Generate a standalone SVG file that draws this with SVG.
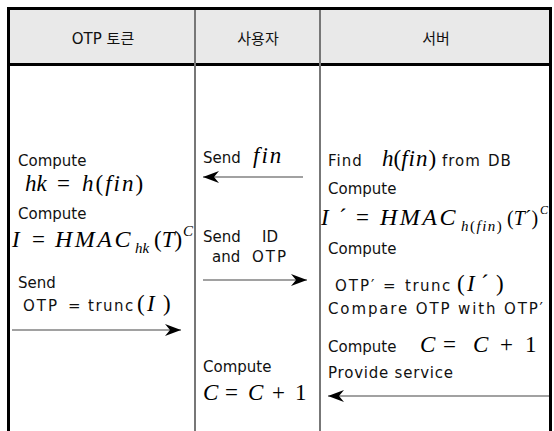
<svg xmlns="http://www.w3.org/2000/svg" width="554" height="431" viewBox="0 0 554 431">
<defs>
<marker id="ah" viewBox="0 0 16 12" refX="16" refY="6" markerWidth="16" markerHeight="12" orient="auto-start-reverse" markerUnits="userSpaceOnUse">
<path d="M0,0 L16,6 L0,12 L5,6 Z" fill="#000"/>
</marker>
<style>
.s{font-family:"DejaVu Sans","Noto Sans CJK KR",sans-serif;font-size:15px;fill:#111}
.h{font-family:"DejaVu Sans","Noto Sans CJK KR",sans-serif;font-size:15px;fill:#111;text-anchor:middle}
.m{font-family:"Liberation Serif","DejaVu Serif",serif;font-size:23px;fill:#000}
.i{font-style:italic}
.sb{font-size:15px}
.hm{font-size:24px;letter-spacing:2.5px}
.ln{stroke:#444;stroke-width:1.2;fill:none}
</style>
</defs>
<rect x="10" y="10" width="539" height="54" fill="#e9e9e9"/>
<g id="frame" fill="none">
<path d="M8.5,431 V8.5 H550.5 V431" stroke="#000" stroke-width="3"/>
<line x1="10" y1="64.5" x2="549" y2="64.5" stroke="#000" stroke-width="3"/>
<line x1="195" y1="10" x2="195" y2="431" stroke="#777" stroke-width="2"/>
<line x1="320" y1="10" x2="320" y2="431" stroke="#777" stroke-width="2"/>
</g>
<g id="header">
<text class="h" x="103" y="44">OTP 토큰</text>
<text class="h" x="258" y="44">사용자</text>
<text class="h" x="436" y="44">서버</text>
</g>
<g id="token">
<text class="s" x="18" y="166">Compute</text>
<text class="m"><tspan class="i" x="25" y="191">hk</tspan><tspan x="57">=</tspan><tspan class="i" x="82" letter-spacing="2">h</tspan><tspan letter-spacing="2">(</tspan><tspan class="i" letter-spacing="2">fin</tspan><tspan>)</tspan></text>
<text class="s" x="18" y="219">Compute</text>
<text class="m"><tspan class="i" x="12" y="247">I</tspan><tspan x="32">=</tspan><tspan class="i hm" x="55">HMAC</tspan><tspan class="i sb" x="135" dy="6">hk</tspan><tspan x="154" dy="-6">(</tspan><tspan class="i">T</tspan><tspan>)</tspan><tspan class="i sb" x="183" dy="-11">C</tspan></text>
<text class="s" x="18" y="288">Send</text>
<text class="s" x="23" y="311"><tspan letter-spacing="2">OTP</tspan><tspan x="68">=</tspan><tspan x="88" letter-spacing="1.5">trunc</tspan><tspan class="m" x="137">(</tspan><tspan class="m i" x="147">I</tspan><tspan class="m" x="163">)</tspan></text>
</g>
<g id="user">
<text class="s" x="203" y="163">Send<tspan class="m i" x="253" letter-spacing="2">fin</tspan></text>
<text class="s" x="203" y="242">Send<tspan x="262">ID</tspan></text>
<text class="s" x="212" y="262">and<tspan x="252" letter-spacing="2">OTP</tspan></text>
<text class="s" x="203" y="372">Compute</text>
<text class="m"><tspan class="i" x="203" y="400">C</tspan><tspan x="225">=</tspan><tspan class="i" x="248">C</tspan><tspan x="272">+</tspan><tspan x="295">1</tspan></text>
</g>
<g id="server">
<text class="s" x="328" y="166"><tspan letter-spacing="1">Find</tspan><tspan class="m i" x="382">h</tspan><tspan class="m">(</tspan><tspan class="m i" letter-spacing="1">fin</tspan><tspan class="m">)</tspan><tspan x="442" letter-spacing="1">from</tspan><tspan x="488" letter-spacing="1">DB</tspan></text>
<text class="s" x="328" y="194">Compute</text>
<text class="m"><tspan class="i" x="321" y="225">I</tspan><tspan x="339">´</tspan><tspan x="356">=</tspan><tspan class="i hm" x="380">HMAC</tspan><tspan class="i sb" x="461" dy="6" letter-spacing="1.5">h</tspan><tspan class="sb" letter-spacing="1.5">(</tspan><tspan class="i sb" letter-spacing="1.5">fin</tspan><tspan class="sb">)</tspan><tspan x="507" dy="-6" font-size="20">(</tspan><tspan class="i" font-size="20">T</tspan><tspan font-size="20">´)</tspan><tspan class="i" font-size="12" x="540" dy="-11">C</tspan></text>
<text class="s" x="328" y="254">Compute</text>
<text class="s" x="335" y="291"><tspan letter-spacing="2">OTP′</tspan><tspan x="383">=</tspan><tspan x="405" letter-spacing="1.5">trunc</tspan><tspan class="m" x="457">(</tspan><tspan class="m i" x="467">I</tspan><tspan class="m" x="481">´</tspan><tspan class="m" x="496">)</tspan></text>
<text class="s" x="328" y="314" textLength="215">Compare OTP with OTP′</text>
<text class="s" x="328" y="352">Compute<tspan class="m i" x="420">C</tspan><tspan class="m" x="443" font-size="25">=</tspan><tspan class="m i" x="473">C</tspan><tspan class="m" x="500" font-size="25">+</tspan><tspan class="m" x="525">1</tspan></text>
<text class="s" x="328" y="378" textLength="125">Provide service</text>
</g>
<g id="connectors">
<line class="ln" x1="12" y1="330" x2="181" y2="330" marker-end="url(#ah)"/>
<line class="ln" x1="303" y1="177" x2="203" y2="177" stroke="#666" marker-end="url(#ah)"/>
<line class="ln" x1="203" y1="280" x2="307" y2="280" marker-end="url(#ah)"/>
<line class="ln" x1="549" y1="396" x2="328" y2="396" stroke="#000" marker-end="url(#ah)"/>
</g>
</svg>
